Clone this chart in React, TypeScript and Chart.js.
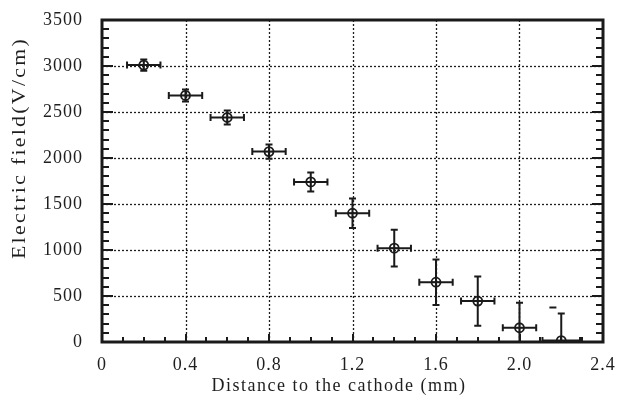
import React, { useEffect, useRef } from 'react';
import { Chart, registerables } from 'chart.js';

Chart.register(...registerables);

// ---- data ----
const distance = [0.2, 0.4, 0.6, 0.8, 1.0, 1.2, 1.4, 1.6, 1.8, 2.0, 2.2];
const field = [3010, 2680, 2440, 2070, 1740, 1400, 1020, 650, 445, 155, 15];
const fieldErr = [62, 65, 75, 78, 103, 160, 200, 248, 268, 272, 295];
const distanceErr = [0.08, 0.08, 0.08, 0.08, 0.08, 0.08, 0.08, 0.08, 0.08, 0.08, 0.09];
const strayDistance = [2.16];
const strayField = [375];
const xTickLabels = ['0', '0.4', '0.8', '1.2', '1.6', '2.0', '2.4'];
const yTickLabels = ['0', '500', '1000', '1500', '2000', '2500', '3000', '3500'];
const xMinorStep = 0.1;
const yMinorStep = 100;
const xTitle = 'Distance to the cathode (mm)';
const yTitle = 'Electric field(V/cm)';

const serif = '"Liberation Serif", "Times New Roman", serif';
const ink = '#1a1a1a';
const textInk = '#1e1e1e';

const framePlugin = {
  id: 'frame',
  beforeDraw(chart: any) {
    chart.ctx.letterSpacing = '1px';
  },
  beforeDatasetsDraw(chart: any) {
    const { ctx, chartArea: a, scales } = chart;
    const xs = scales.x;
    const ys = scales.y;
    ctx.save();
    // dotted grid at major ticks
    ctx.strokeStyle = '#1e1e1e';
    ctx.lineWidth = 1.3;
    ctx.setLineDash([2, 2]);
    xs.ticks.forEach((t: any) => {
      if (t.value > xs.min + 1e-9 && t.value < xs.max - 1e-9) {
        const px = Math.round(xs.getPixelForValue(t.value)) + 0.5;
        ctx.beginPath();
        ctx.moveTo(px, a.top);
        ctx.lineTo(px, a.bottom);
        ctx.stroke();
      }
    });
    ys.ticks.forEach((t: any) => {
      if (t.value > ys.min + 1e-9 && t.value < ys.max - 1e-9) {
        const py = Math.round(ys.getPixelForValue(t.value)) + 0.5;
        ctx.beginPath();
        ctx.moveTo(a.left, py);
        ctx.lineTo(a.right, py);
        ctx.stroke();
      }
    });
    ctx.setLineDash([]);
    // error bars
    ctx.beginPath();
    ctx.rect(a.left, a.top, a.width, a.height);
    ctx.clip();
    ctx.strokeStyle = ink;
    ctx.lineWidth = 2;
    const cap = 3.5;
    distance.forEach((d, i) => {
      const cx = xs.getPixelForValue(d);
      const cy = ys.getPixelForValue(field[i]);
      const x0 = xs.getPixelForValue(d - distanceErr[i]);
      const x1 = xs.getPixelForValue(d + distanceErr[i]);
      const y0 = ys.getPixelForValue(field[i] - fieldErr[i]);
      const y1 = ys.getPixelForValue(field[i] + fieldErr[i]);
      ctx.beginPath();
      ctx.moveTo(x0, cy); ctx.lineTo(x1, cy);
      ctx.moveTo(x0, cy - cap); ctx.lineTo(x0, cy + cap);
      ctx.moveTo(x1, cy - cap); ctx.lineTo(x1, cy + cap);
      ctx.moveTo(cx, y0); ctx.lineTo(cx, y1);
      ctx.moveTo(cx - cap, y0); ctx.lineTo(cx + cap, y0);
      ctx.moveTo(cx - cap, y1); ctx.lineTo(cx + cap, y1);
      ctx.stroke();
    });
    ctx.restore();
  },
  afterDatasetsDraw(chart: any) {
    const { ctx, chartArea: a, scales } = chart;
    const xs = scales.x;
    const ys = scales.y;
    ctx.save();
    ctx.strokeStyle = ink;
    ctx.lineWidth = 2;
    // y ticks on left and right
    for (let v = ys.min; v <= ys.max + 1e-6; v += yMinorStep) {
      const major = Math.abs(v % 500) < 1e-6;
      const len = major ? 11 : 7;
      const py = Math.round(ys.getPixelForValue(v));
      ctx.beginPath();
      ctx.moveTo(a.left, py); ctx.lineTo(a.left + len, py);
      ctx.moveTo(a.right, py); ctx.lineTo(a.right - len, py);
      ctx.stroke();
    }
    // x ticks on bottom
    for (let k = 0; k <= Math.round((xs.max - xs.min) / xMinorStep); k++) {
      const v = xs.min + k * xMinorStep;
      const major = k % 4 === 0;
      const len = major ? 8 : 5;
      const px = Math.round(xs.getPixelForValue(v));
      ctx.beginPath();
      ctx.moveTo(px, a.bottom); ctx.lineTo(px, a.bottom - len);
      ctx.stroke();
    }
    // frame
    ctx.lineWidth = 3;
    ctx.strokeRect(a.left, a.top, a.right - a.left, a.bottom - a.top);
    ctx.restore();
  },
  afterDraw(chart: any) {
    const { ctx } = chart;
    ctx.save();
    ctx.fillStyle = textInk;
    ctx.textAlign = 'center';
    ctx.textBaseline = 'middle';
    // x title
    ctx.letterSpacing = '1.5px';
    ctx.font = `18px ${serif}`;
    let w = ctx.measureText(xTitle).width;
    ctx.save();
    ctx.translate(339, 386);
    ctx.scale(255 / w, 1);
    ctx.fillText(xTitle, 0, 0);
    ctx.restore();
    // y title
    ctx.letterSpacing = '2px';
    ctx.font = `19px ${serif}`;
    w = ctx.measureText(yTitle).width;
    ctx.save();
    ctx.translate(20, 148);
    ctx.rotate(-Math.PI / 2);
    ctx.scale(222 / w, 1);
    ctx.fillText(yTitle, 0, 0);
    ctx.restore();
    ctx.restore();
  },
};

export default function App() {
  const ref = useRef<HTMLCanvasElement | null>(null);
  useEffect(() => {
    if (!ref.current) return;
    const points = distance.map((d, i) => ({ x: d, y: field[i] }));
    const stray = strayDistance.map((d, i) => ({ x: d, y: strayField[i] }));
    const chart = new Chart(ref.current, {
      type: 'scatter',
      data: {
        datasets: [
          {
            data: points,
            pointStyle: 'circle',
            pointRadius: 4.5,
            borderColor: ink,
            backgroundColor: 'rgba(255,255,255,0)',
            borderWidth: 1.8,
          },
          {
            data: points,
            pointStyle: 'cross',
            pointRadius: 4,
            borderColor: ink,
            borderWidth: 1.2,
          },
          {
            data: stray,
            pointStyle: 'line',
            pointRadius: 3.5,
            borderColor: ink,
            borderWidth: 2,
          },
        ],
      },
      options: {
        responsive: false,
        animation: false,
        events: [],
        layout: { padding: { left: 0, right: 18, top: 20, bottom: 0 } },
        plugins: { legend: { display: false }, tooltip: { enabled: false } },
        scales: {
          x: {
            type: 'linear',
            min: 0,
            max: 2.4,
            afterFit: (s: any) => { s.height = 59; s.paddingLeft = 0; s.paddingRight = 0; },
            ticks: {
              stepSize: 0.4,
              autoSkip: false,
              maxRotation: 0,
              padding: 12,
              color: textInk,
              font: { family: serif, size: 18 },
              callback: (_v: any, i: number) => xTickLabels[i],
            },
            grid: { display: true, color: 'rgba(0,0,0,0)', drawTicks: false, drawOnChartArea: false },
            border: { display: false },
          },
          y: {
            type: 'linear',
            min: 0,
            max: 3500,
            afterFit: (s: any) => { s.width = 102; s.paddingTop = 0; s.paddingBottom = 0; },
            ticks: {
              stepSize: 500,
              autoSkip: false,
              padding: 19,
              color: textInk,
              font: { family: serif, size: 18 },
              callback: (_v: any, i: number) => yTickLabels[i],
            },
            grid: { display: true, color: 'rgba(0,0,0,0)', drawTicks: false, drawOnChartArea: false },
            border: { display: false },
          },
        },
      },
      plugins: [framePlugin],
    } as any);
    return () => chart.destroy();
  }, []);
  return (
    <div style={{ position: 'fixed', left: 0, top: 0, width: 621, height: 401, background: '#fff' }}>
      <canvas ref={ref} width={621} height={401} style={{ display: 'block' }} />
    </div>
  );
}
